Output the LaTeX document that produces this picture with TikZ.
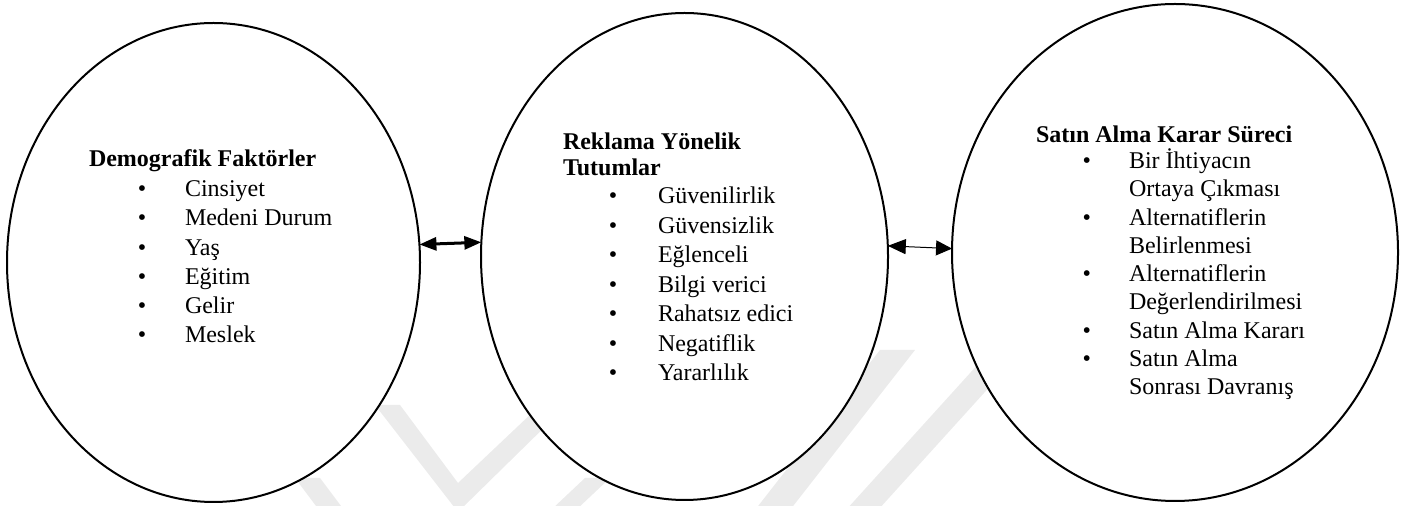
\documentclass[tikz,border=0pt]{standalone}
\usepackage{fontspec}
\setmainfont{Liberation Serif}
\usetikzlibrary{shapes.geometric,arrows.meta}
\begin{document}
\begin{tikzpicture}[x=0.5pt,y=-0.5pt,
  oval/.style={ellipse, draw=black, line width=1pt, fill=white, inner sep=0pt, outer sep=0pt},
  wm/.style={fill=black!8, draw=none},
  txt/.style={inner sep=0pt, outer sep=0pt, anchor=base west, font=\fontsize{12pt}{14pt}\selectfont},
  ttl/.style={txt, font=\fontsize{12pt}{14pt}\selectfont\bfseries},
  tip/.style={Triangle[length=8pt,width=6.5pt]},
]
\useasboundingbox (0,0) rectangle (1408,506);
% faint watermark
\begin{scope}
\clip (0,0) rectangle (1408,506);
\fill[wm] (375,405) -- (400,405) -- (458,483) -- (533,412) -- (560,412) -- (458,512) -- cycle;
\fill[wm] (295,478) -- (320,478) -- (344,510) -- (319,510) -- cycle;
\fill[wm] (585,478) -- (610,478) -- (576,510) -- (551,510) -- cycle;
\fill[wm] (880,350) -- (915,350) -- (790,510) -- (755,510) -- cycle;
\fill[wm] (1000,340) -- (1032,340) -- (878,510) -- (846,510) -- cycle;
\end{scope}
% ellipses
\node[oval, minimum width=206.5pt, minimum height=239.5pt] (e1) at (213.5,262.5) {};
\node[oval, minimum width=203.5pt, minimum height=243.5pt] (e2) at (684.5,256.5) {};
\node[oval, minimum width=223pt, minimum height=248.5pt] (e3) at (1175,252.5) {};
% connectors
\draw[line width=1.5pt, {Triangle[length=8.5pt,width=6.5pt]}-{Triangle[length=8.5pt,width=6.5pt]}] (e1.5) -- (e2.176);
\draw[line width=0.5pt, {Triangle[length=9pt,width=7.5pt]}-{Triangle[length=8pt,width=7.5pt]}] (e2.3) -- (e3.179);
% ellipse 1 text
\node[ttl] (d-title) at (89,167) {Demografik Faktörler};
\foreach \t [count=\i from 0] in {Cinsiyet, Medeni Durum, Yaş, Eğitim, Gelir, Meslek} {
  \node[txt] (d-b\i) at (137.8,{196.5+29.3*\i}) {\textbullet};
  \node[txt] (d-t\i) at (185,{196.5+29.3*\i}) {\t};
}
% ellipse 2 text
\node[ttl] (r-title1) at (563,150) {Reklama Yönelik};
\node[ttl] (r-title2) at (563,176) {Tutumlar};
\foreach \t [count=\i from 0] in {Güvenilirlik, Güvensizlik, Eğlenceli, Bilgi verici, Rahatsız edici, Negatiflik, Yararlılık} {
  \node[txt] (r-b\i) at (608.8,{204+29.5*\i}) {\textbullet};
  \node[txt] (r-t\i) at (658,{204+29.5*\i}) {\t};
}
% ellipse 3 text
\node[ttl] (s-title) at (1036,143) {Satın Alma Karar Süreci};
\foreach \t/\b [count=\i from 0] in {Bir İhtiyacın/1, Ortaya Çıkması/0, Alternatiflerin/1, Belirlenmesi/0, Alternatiflerin/1, Değerlendirilmesi/0, Satın Alma Kararı/1, Satın Alma/1, Sonrası Davranış/0} {
  \ifnum\b=1 \node[txt] (s-b\i) at (1082.5,{168.5+28.3*\i}) {\textbullet};\fi
  \node[txt] (s-t\i) at (1129,{168.5+28.3*\i}) {\t};
}
\end{tikzpicture}
\end{document}
